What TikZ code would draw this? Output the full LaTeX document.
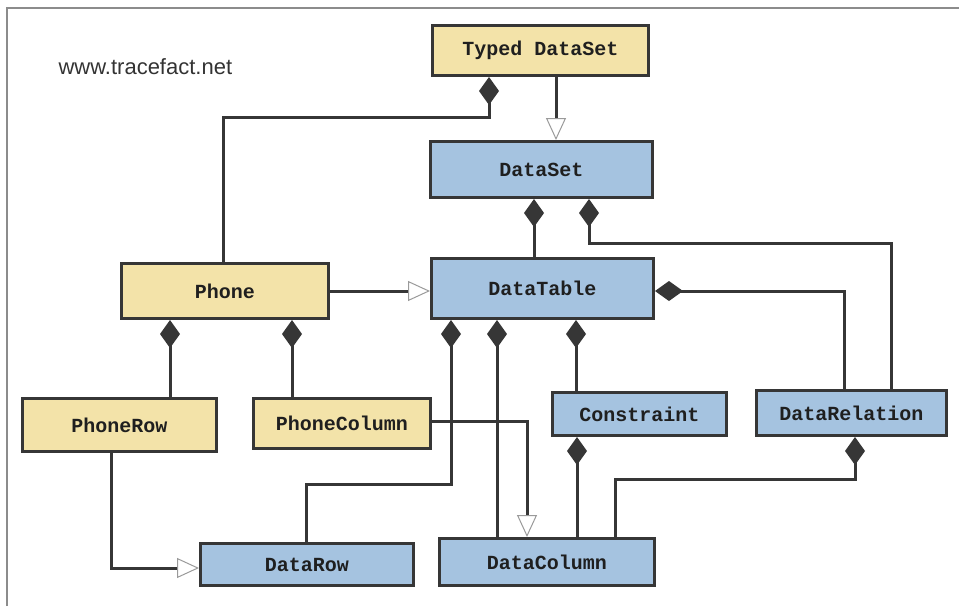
\documentclass[tikz,border=0pt]{standalone}
\usepackage{fontspec}
\setmainfont{Liberation Sans}
\setmonofont{Liberation Mono}
\usetikzlibrary{arrows.meta}
\definecolor{linegray}{HTML}{363636}
\definecolor{framegray}{HTML}{8C8C8C}
\definecolor{classyellow}{HTML}{F3E3A9}
\definecolor{classblue}{HTML}{A5C3E0}
\definecolor{tipgray}{HTML}{9A9A9A}
\tikzset{
  classbox/.style={draw=linegray, line width=3pt, inner sep=0pt,
    font=\ttfamily\bfseries\fontsize{20}{24}\selectfont, text=black!88},
  ext/.style={classbox, fill=classyellow},
  core/.style={classbox, fill=classblue},
  link/.style={draw=linegray, line width=3pt},
  comp/.style={link, -{Diamond[length=28pt,width=20pt,fill=linegray,color=linegray]}},
  inh/.style={link, -{Triangle[length=22pt,width=20pt,fill=white,color=tipgray,line width=1pt]}}
}
\begin{document}
\begin{tikzpicture}[x=1pt,y=-1pt]
\useasboundingbox (0,0) rectangle (959,606);
% outer frame
\draw[framegray, line width=1.5pt] (7,606) -- (7,8) -- (959,8);
\node[anchor=base west, font=\fontsize{22}{26}\selectfont, text=black!80] (site) at (55,74) {www.tracefact.net};

% classes
\node[ext, minimum width=216pt, minimum height=50pt] (tds) at (540.5,50.5) {Typed DataSet};
\node[core, minimum width=222pt, minimum height=56pt] (ds) at (541.5,169.5) {DataSet};
\node[core, minimum width=222pt, minimum height=60pt] (dt) at (542.5,288.5) {DataTable};
\node[ext, minimum width=207pt, minimum height=55pt] (phone) at (225,291) {Phone};
\node[ext, minimum width=194pt, minimum height=53pt] (prow) at (119.5,425) {PhoneRow};
\node[ext, minimum width=177pt, minimum height=50pt] (pcol) at (342,423.5) {PhoneColumn};
\node[core, minimum width=213pt, minimum height=42pt] (drow) at (307,564.5) {DataRow};
\node[core, minimum width=215pt, minimum height=47pt] (dcol) at (547,562) {DataColumn};
\node[core, minimum width=174pt, minimum height=43pt] (cons) at (639.5,414) {Constraint};
\node[core, minimum width=190pt, minimum height=45pt] (drel) at (851.5,413) {DataRelation};

% generalisations
\draw[inh] ([xshift=15.5]tds.south) -- ([xshift=14.5]ds.north);
\draw[inh] (phone.east) -- (phone.east -| dt.west);
\draw[inh] ([yshift=2.5]pcol.east) -| ([xshift=-20]dcol.north);
\draw[inh] ([xshift=-8.5]prow.south) |- ([yshift=-3.5]drow.west);

% compositions
\draw[comp] ([xshift=-2]phone.north) |- ([xshift=-51.5,yshift=-40]tds.south) -- ([xshift=-51.5]tds.south);
\draw[comp] ([xshift=-8.5]dt.north) -- ([xshift=-7.5]ds.south);
\draw[comp] ([xshift=39.5]drel.north) |- ([xshift=47.5,yshift=-44]ds.south) -- ([xshift=47.5]ds.south);
\draw[comp] ([xshift=-7.5]drel.north) |- ([yshift=-2.5]dt.east);
\draw[comp] ([xshift=50.5]prow.north) -- ([xshift=-55]phone.south);
\draw[comp] ([xshift=-50]pcol.north) -- ([xshift=67]phone.south);
\draw[comp] ([xshift=-63.5]cons.north) -- ([xshift=33.5]dt.south);
\draw[comp] ([xshift=-1]drow.north) |- ([xshift=-91.5,yshift=-164]dt.south) -- ([xshift=-91.5]dt.south);
\draw[comp] ([xshift=-50]dcol.north) -- ([xshift=-45.5]dt.south);
\draw[comp] ([xshift=30]dcol.north) -- ([xshift=-62.5]cons.south);
\draw[comp] ([xshift=68]dcol.north) |- ([xshift=3.5,yshift=-42]drel.south) -- ([xshift=3.5]drel.south);
\end{tikzpicture}
\end{document}
